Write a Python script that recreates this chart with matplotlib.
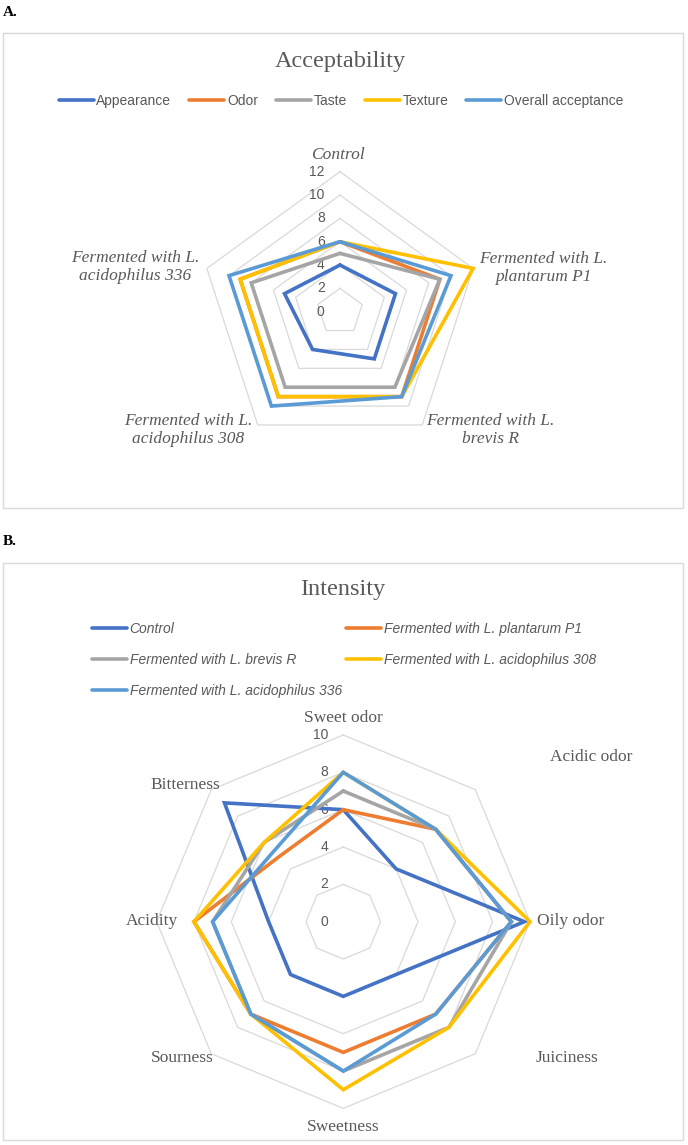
#!/usr/bin/env python3
"""Radar charts: sensory acceptability (A) and intensity (B) of fermented samples."""

import numpy as np
import matplotlib
matplotlib.use("Agg")
import matplotlib.pyplot as plt
from matplotlib.patches import Rectangle

# ---- data -------------------------------------------------------------
acc_categories = [
    "Control",
    "Fermented with L.\nplantarum P1",
    "Fermented with L.\nbrevis R",
    "Fermented with L.\nacidophilus 308",
    "Fermented with L.\nacidophilus 336",
]
acc_series = ["Appearance", "Odor", "Taste", "Texture", "Overall acceptance"]
appearance = [4, 5, 5, 4, 5]
odor = [6, 9, 9, 9, 9]
taste = [5, 9, 8, 8, 8]
texture = [6, 12, 9, 9, 9]
overall = [6, 10, 9, 10, 10]
acc_ticks = [0, 2, 4, 6, 8, 10, 12]

int_categories = ["Sweet odor", "Acidic odor", "Oily odor", "Juiciness",
                  "Sweetness", "Sourness", "Acidity", "Bitterness"]
int_series = ["Control", "Fermented with L. plantarum P1", "Fermented with L. brevis R",
              "Fermented with L. acidophilus 308", "Fermented with L. acidophilus 336"]
control = [6, 4, 9.7, 4, 4, 4, 4, 9]
plantarum_p1 = [6, 7, 9, 7, 7, 7, 8, 4.9]
brevis_r = [7, 7, 9, 8, 8, 7, 7, 6]
acidophilus_308 = [8, 7, 10, 8, 9, 7, 8, 6]
acidophilus_336 = [8, 7, 9, 7, 8, 7, 7, 5.3]
int_ticks = [0, 2, 4, 6, 8, 10]

colors = ["#4472C4", "#ED7D31", "#A5A5A5", "#FFC000", "#5B9BD5"]
GRID = "#D9D9D9"
TXT = "#595959"
SERIF = ["Liberation Serif", "DejaVu Serif"]
SANS = ["Liberation Sans", "DejaVu Sans"]

W, H = 688, 1145
fig = plt.figure(figsize=(W / 100, H / 100), dpi=100)


def px(x, y):
    return x / W, 1 - y / H


def radar(cx, cy, rad, rmax, ticks, values, labels):
    l, b = px(cx - rad, cy + rad)
    ax = fig.add_axes([l, b, 2 * rad / W, 2 * rad / H], projection="polar")
    ax.set_theta_zero_location("N")
    ax.set_theta_direction(-1)
    ax.set_ylim(0, rmax)
    ax.grid(False)
    ax.set_xticks([])
    ax.set_yticks([])
    ax.spines["polar"].set_visible(False)
    ax.patch.set_visible(False)
    n = len(values[0])
    ang = np.arange(n + 1) * 2 * np.pi / n
    for t in ticks[1:]:
        ax.plot(ang, [t] * (n + 1), color=GRID, lw=0.9, zorder=1, clip_on=False)
    for t in ticks:
        ax.annotate(str(t), xy=(0, t), xytext=(-11, 0), textcoords="offset points",
                    ha="right", va="center", fontsize=10, color=TXT, family=SANS)
    handles = []
    for vals, c, lab in zip(values, colors, labels):
        h, = ax.plot(ang, list(vals) + [vals[0]], color=c, lw=2.6, label=lab,
                     zorder=3, clip_on=False, solid_joinstyle="miter",
                     solid_capstyle="round")
        handles.append(h)
    return ax, handles


# ---- panel A ----------------------------------------------------------
fig.text(*px(3, 13), "A.", fontsize=11, fontweight="bold", family=SERIF, va="center")
fig.patches.append(Rectangle(px(3, 508), 680 / W, 475 / H, transform=fig.transFigure,
                             fill=False, edgecolor=GRID, lw=1.0))
fig.text(*px(340, 61), "Acceptability", fontsize=17.5, color=TXT, family=SERIF,
         ha="center", va="center")

ax1, h1 = radar(340, 311.7, 140, 12, acc_ticks,
                [appearance, odor, taste, texture, overall], acc_series)
leg1 = fig.legend(handles=h1, loc="center", bbox_to_anchor=px(341, 101), ncol=5,
                  frameon=False, prop={"family": SANS, "size": 10}, labelcolor=TXT,
                  handlelength=2.5, handletextpad=0.2, columnspacing=1.3)

acc_pos = [(338, 155), (543, 268), (490, 430), (188, 430), (135, 267)]
for lab, (x, y) in zip(acc_categories, acc_pos):
    fig.text(*px(x, y), lab, fontsize=12.5, color=TXT, family=SERIF, style="italic",
             ha="center", va="center", linespacing=1.15)

# ---- panel B ----------------------------------------------------------
fig.text(*px(3, 541), "B.", fontsize=11, fontweight="bold", family=SERIF, va="center")
fig.patches.append(Rectangle(px(3, 1140), 680 / W, 577 / H, transform=fig.transFigure,
                             fill=False, edgecolor=GRID, lw=1.0))
fig.text(*px(343, 590), "Intensity", fontsize=17.5, color=TXT, family=SERIF,
         ha="center", va="center")

ax2, h2 = radar(343.3, 921.7, 186.7, 10, int_ticks,
                [control, plantarum_p1, brevis_r, acidophilus_308, acidophilus_336],
                int_series)
# legend reads row by row like the original: reorder for column-wise filling
order = [0, 2, 4, 1, 3]
leg2 = fig.legend(handles=[h2[i] for i in order], loc="center", bbox_to_anchor=px(344, 660),
                  ncol=2, frameon=False,
                  prop={"family": SANS, "size": 10, "style": "italic"}, labelcolor=TXT,
                  handlelength=2.5, handletextpad=0.2, columnspacing=0.3, labelspacing=1.2)

int_pos = [(343, 718, "center"), (591, 757, "center"), (537, 921, "left"),
           (567, 1058, "center"), (343, 1127, "center"), (182, 1058, "center"),
           (178, 921, "right"), (185, 785, "center")]
for lab, (x, y, ha) in zip(int_categories, int_pos):
    fig.text(*px(x, y), lab, fontsize=12.5, color=TXT, family=SERIF, ha=ha, va="center")

fig.savefig("out.png", dpi=100)
